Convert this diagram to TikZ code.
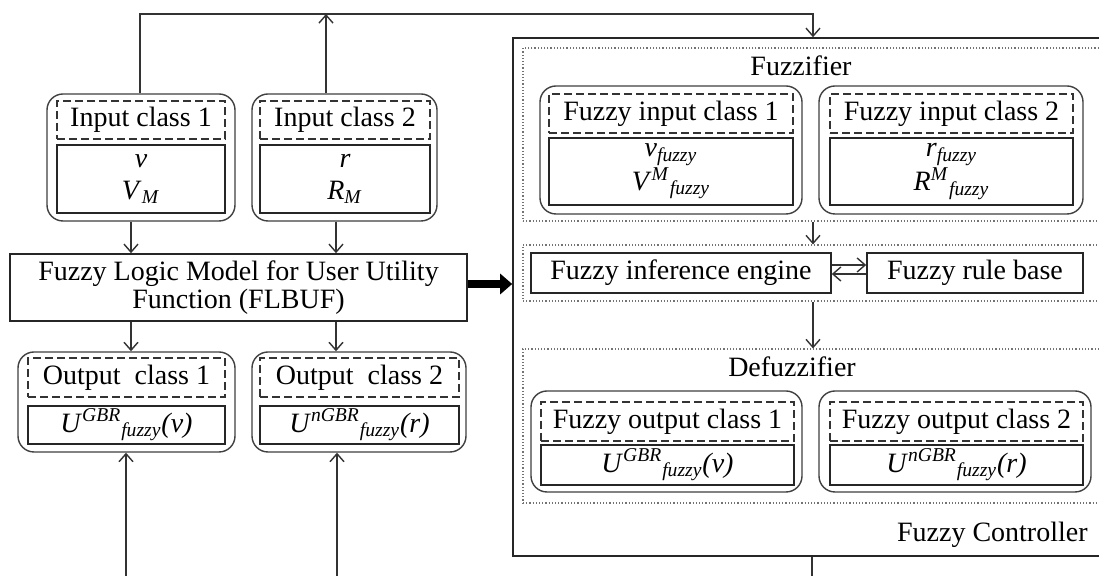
\documentclass[tikz,border=0pt]{standalone}
\usepackage{fontspec}
\setmainfont{Liberation Serif}[ItalicFont={Liberation Serif Italic}, BoldFont={Liberation Serif Bold}]
\usetikzlibrary{arrows.meta}
\newcommand{\iv}[1]{\textit{#1}}
\begin{document}
\begin{tikzpicture}[x=0.5pt,y=-0.5pt]
\tikzset{
 base/.style={inner sep=0pt, font=\fontsize{14}{15}\selectfont, text=black},
 rbox/.style={draw=black!75, line width=0.7pt, rounded corners=8pt, inner sep=0pt},
 dbox/.style={base, draw=black!80, line width=0.7pt, dash pattern=on 4pt off 2pt},
 sbox/.style={base, draw=black!85, line width=0.8pt, align=center},
 dotbox/.style={draw=black!55, line width=0.6pt, densely dotted, inner sep=0pt},
 plain/.style={base, draw=black!85, line width=0.8pt, align=center},
 arr/.style={draw=black!80, line width=0.7pt, -{Straight Barb[length=4pt,width=7pt]}},
 conn/.style={draw=black!80, line width=0.7pt},
}
\clip (0,0) rectangle (1099,576);
\fill[white] (0,0) rectangle (1099,576);

% ---------- left side ----------
\node[rbox, minimum width=94pt, minimum height=63.5pt] (in1) at (141,157.5) {};
\node[dbox, minimum width=84pt, minimum height=19pt] (in1h) at (141,120) {Input class 1};
\node[sbox, minimum width=84pt, minimum height=34pt] (in1b) at (141,179) {\iv{v}\\[1pt]\iv{V}\textsubscript{\iv{M}}};

\node[rbox, minimum width=92.5pt, minimum height=63.5pt] (in2) at (344.5,157.5) {};
\node[dbox, minimum width=85pt, minimum height=19pt] (in2h) at (345,120) {Input class 2};
\node[sbox, minimum width=85pt, minimum height=34pt] (in2b) at (345,179) {\iv{r}\\[1pt]\iv{R}\textsubscript{\iv{M}}};

\node[plain, minimum width=228.5pt, minimum height=33.5pt, font=\fontsize{14}{14}\selectfont] (flbuf) at (238.5,287.5)
 {Fuzzy Logic Model for User Utility\\Function (FLBUF)};

\node[rbox, minimum width=108.5pt, minimum height=50pt] (out1) at (126.5,402) {};
\node[dbox, minimum width=98.5pt, minimum height=19.5pt] (out1h) at (126.5,377.5) {Output\ \ class 1};
\node[sbox, minimum width=98.5pt, minimum height=19pt] (out1b) at (126.5,425)
 {\iv{U}\textsuperscript{\iv{GBR}}\textsubscript{\iv{fuzzy}}\iv{(v)}};

\node[rbox, minimum width=107pt, minimum height=50pt] (out2) at (359,402) {};
\node[dbox, minimum width=99.5pt, minimum height=19.5pt] (out2h) at (359.5,377.5) {Output\ \ class 2};
\node[sbox, minimum width=99.5pt, minimum height=19pt] (out2b) at (359.5,425)
 {\iv{U}\textsuperscript{\iv{nGBR}}\textsubscript{\iv{fuzzy}}\iv{(r)}};

% ---------- fuzzy controller ----------
\node[draw=black!85, line width=0.8pt, inner sep=0pt, minimum width=298.5pt, minimum height=259pt] (ctrl) at (811.5,297) {};
\node[base, anchor=east] (fcl) at (1088,535) {Fuzzy Controller};

\node[dotbox, minimum width=293.5pt, minimum height=86.5pt] (fuzz) at (816.5,134.5) {};
\node[base] (fuzzl) at (801,66) {Fuzzifier};

\node[rbox, minimum width=131pt, minimum height=64pt] (fi1) at (671,150) {};
\node[dbox, minimum width=122pt, minimum height=19.5pt] (fi1h) at (671,113.5) {Fuzzy input class 1};
\node[sbox, minimum width=122pt, minimum height=33.5pt, font=\fontsize{14}{12.5}\selectfont] (fi1b) at (671,171.5)
 {\iv{v}\textsubscript{\iv{fuzzy}}\\\iv{V}\textsuperscript{\iv{M}}\textsubscript{\iv{fuzzy}}};

\node[rbox, minimum width=132pt, minimum height=64pt] (fi2) at (951,150) {};
\node[dbox, minimum width=121.5pt, minimum height=19.5pt] (fi2h) at (951.5,113.5) {Fuzzy input class 2};
\node[sbox, minimum width=121.5pt, minimum height=33.5pt, font=\fontsize{14}{12.5}\selectfont] (fi2b) at (951.5,171.5)
 {\iv{r}\textsubscript{\iv{fuzzy}}\\\iv{R}\textsuperscript{\iv{M}}\textsubscript{\iv{fuzzy}}};

\node[dotbox, minimum width=293.5pt, minimum height=28pt] (infb) at (816.5,273) {};
\node[plain, minimum width=150pt, minimum height=20pt] (eng) at (681,273) {Fuzzy inference engine};
\node[plain, minimum width=108pt, minimum height=20pt] (rule) at (975,273) {Fuzzy rule base};

\node[dotbox, minimum width=293.5pt, minimum height=77pt] (defz) at (816.5,426) {};
\node[base] (defzl) at (792,367) {Defuzzifier};

\node[rbox, minimum width=135.5pt, minimum height=50.5pt] (fo1) at (666.5,441.5) {};
\node[dbox, minimum width=126.5pt, minimum height=19.5pt] (fo1h) at (667.5,421.5) {Fuzzy output class 1};
\node[sbox, minimum width=126.5pt, minimum height=20pt] (fo1b) at (667.5,465)
 {\iv{U}\textsuperscript{\iv{GBR}}\textsubscript{\iv{fuzzy}}\iv{(v)}};

\node[rbox, minimum width=136pt, minimum height=50.5pt] (fo2) at (955,441.5) {};
\node[dbox, minimum width=126.5pt, minimum height=19.5pt] (fo2h) at (956.5,421.5) {Fuzzy output class 2};
\node[sbox, minimum width=126.5pt, minimum height=20pt] (fo2b) at (956.5,465)
 {\iv{U}\textsuperscript{\iv{nGBR}}\textsubscript{\iv{fuzzy}}\iv{(r)}};

% ---------- connectors ----------
\coordinate (tl) at (140,14);
\coordinate (tm) at (326,14);
\coordinate (tr) at (813,14);
\draw[arr] (in1.north -| tl) -- (tl) -- (tr) -- (ctrl.north -| tr);
\draw[arr] (in2.north -| tm) -- (tm);

\draw[arr] (in1.south -| 131,0) -- (flbuf.north -| 131,0);
\draw[arr] (in2.south -| 336,0) -- (flbuf.north -| 336,0);
\draw[arr] (flbuf.south -| 131,0) -- (out1.north -| 131,0);
\draw[arr] (flbuf.south -| 336,0) -- (out2.north -| 336,0);

\coordinate (b1) at (126,576);
\coordinate (b2) at (337,576);
\draw[arr] (b1) -- (out1.south -| b1);
\draw[arr] (b2) -- (out2.south -| b2);

\draw[black, line width=4pt, -{Triangle[length=6pt,width=10pt]}] (flbuf.east |- 0,284) -- (ctrl.west |- 0,284);

\draw[arr] (fuzz.south -| 813,0) -- (infb.north -| 813,0);
\draw[arr] (infb.south -| 813,0) -- (defz.north -| 813,0);
\draw[arr] (eng.east |- 0,265) -- (rule.west |- 0,265);
\draw[arr] (rule.west |- 0,274) -- (eng.east |- 0,274);

\coordinate (bo) at (812,576);
\draw[conn] (ctrl.south -| bo) -- (bo);
\end{tikzpicture}
\end{document}
